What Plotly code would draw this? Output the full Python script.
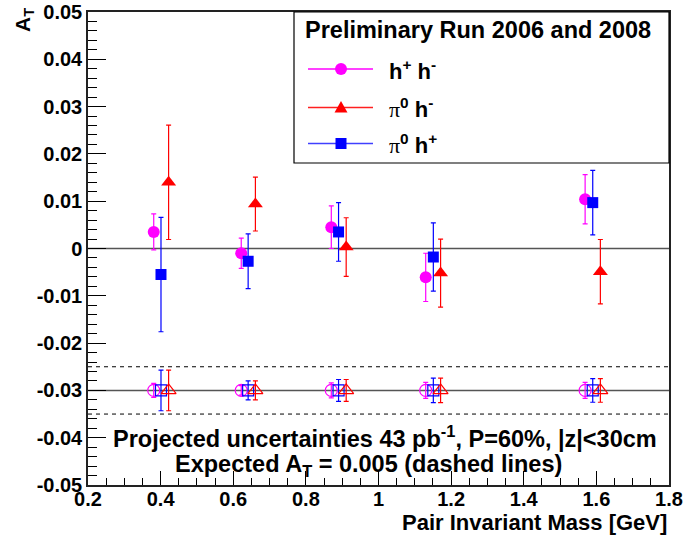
import numpy as np
import plotly.graph_objects as go

# Measured transverse asymmetry A_T per invariant-mass bin
hh_mass = [0.381, 0.622, 0.870, 1.130, 1.569]
hh_at = [0.0035, -0.0010, 0.0045, -0.0061, 0.0104]
hh_err = [0.0038, 0.0032, 0.0045, 0.0051, 0.0052]

pi0hm_mass = [0.422, 0.661, 0.911, 1.171, 1.611]
pi0hm_at = [0.0140, 0.0094, 0.0003, -0.0052, -0.0049]
pi0hm_err = [0.0121, 0.0057, 0.0062, 0.0072, 0.0068]

pi0hp_mass = [0.401, 0.641, 0.890, 1.151, 1.590]
pi0hp_at = [-0.0055, -0.0027, 0.0035, -0.0018, 0.0097]
pi0hp_err = [0.0121, 0.0058, 0.0062, 0.0072, 0.0068]

# Projected uncertainties, drawn around a common offset level
proj_level = -0.03
proj_band = [-0.025, -0.035]
hh_proj_err = [0.0015, 0.0010, 0.0016, 0.0017, 0.0017]
pi0hm_proj_err = [0.0043, 0.0020, 0.0023, 0.0026, 0.0025]
pi0hp_proj_err = [0.0043, 0.0020, 0.0023, 0.0026, 0.0025]

x_ticks = [0.2, 0.4, 0.6, 0.8, 1.0, 1.2, 1.4, 1.6, 1.8]
x_tick_labels = ["0.2", "0.4", "0.6", "0.8", "1", "1.2", "1.4", "1.6", "1.8"]
y_ticks = [0.05, 0.04, 0.03, 0.02, 0.01, 0, -0.01, -0.02, -0.03, -0.04, -0.05]
y_tick_labels = ["0.05", "0.04", "0.03", "0.02", "0.01", "0", "-0.01", "-0.02",
                 "-0.03", "-0.04", "-0.05"]

MAGENTA = "#ff00ff"
RED = "#ff0000"
BLUE = "#0000ff"
FONT = "Liberation Sans"

W, H = 685, 537
L, R, T, B = 88, 16, 12, 52
PW, PH = W - L - R, H - T - B


def px(xp):
    return (xp - L) / PW


def py(yp):
    return (H - B - yp) / PH


fig = go.Figure()


def add_series(x, y, err, color, symbol, size):
    fig.add_trace(go.Scatter(
        x=x, y=y, mode="markers",
        marker=dict(color=color, symbol=symbol, size=size, line=dict(width=0)),
        error_y=dict(type="data", array=err, color=color, thickness=1.2, width=2.5),
        showlegend=False, cliponaxis=False,
    ))


def add_projection(x, err, color, symbol, size):
    fig.add_trace(go.Scatter(
        x=x, y=[proj_level] * len(x), mode="markers",
        marker=dict(color=color, symbol=symbol, size=size, line=dict(width=1.2, color=color)),
        error_y=dict(type="data", array=err, color=color, thickness=1.2, width=2.5),
        showlegend=False,
    ))


add_projection(hh_mass, hh_proj_err, MAGENTA, "circle-open", 12)
add_projection(pi0hp_mass, pi0hp_proj_err, BLUE, "square-open", 11)
add_projection(pi0hm_mass, pi0hm_proj_err, RED, "triangle-up-open", 13)

add_series(hh_mass, hh_at, hh_err, MAGENTA, "circle", 12)
add_series(pi0hm_mass, pi0hm_at, pi0hm_err, RED, "triangle-up", 13)
add_series(pi0hp_mass, pi0hp_at, pi0hp_err, BLUE, "square", 11)

shapes = []
# zero line and projected level
for lvl in [0, proj_level]:
    shapes.append(dict(type="line", xref="paper", yref="y", x0=0, x1=1, y0=lvl, y1=lvl,
                       line=dict(color="#555555", width=1.5), layer="below"))
# expected asymmetry band
for lvl in proj_band:
    shapes.append(dict(type="line", xref="paper", yref="y", x0=0, x1=1, y0=lvl, y1=lvl,
                       line=dict(color="black", width=1, dash="4px,4px"), layer="below"))

# legend box
shapes.append(dict(type="rect", xref="paper", yref="paper",
                   x0=px(294), x1=px(669), y0=py(163), y1=py(12),
                   line=dict(color="black", width=1.2), fillcolor="white", layer="above"))

PI = "<span style=\"font-family:'Liberation Serif';font-weight:normal\">π</span>"
legend_rows = [
    (69, MAGENTA, "#ff00ff", "circle", "h<sup>+</sup> h<sup>-</sup>"),
    (107.5, RED, "#ff2020", "triangle", PI + "<sup>0</sup> h<sup>-</sup>"),
    (143.5, BLUE, "#4040ff", "square", PI + "<sup>0</sup> h<sup>+</sup>"),
]
annotations = []
for yrow, color, lcolor, kind, label in legend_rows:
    shapes.append(dict(type="line", xref="paper", yref="paper",
                       x0=px(308), x1=px(373), y0=py(yrow), y1=py(yrow),
                       line=dict(color=lcolor, width=1.5), layer="above"))
    common = dict(xref="paper", yref="paper", xsizemode="pixel", ysizemode="pixel",
                  xanchor=px(341), yanchor=py(yrow), fillcolor=color,
                  line=dict(color=color, width=0), layer="above")
    if kind == "circle":
        shapes.append(dict(type="circle", x0=-6, x1=6, y0=-6, y1=6, **common))
    elif kind == "square":
        shapes.append(dict(type="rect", x0=-5.5, x1=5.5, y0=-5.5, y1=5.5, **common))
    else:
        shapes.append(dict(type="path", path="M -6.5 -5 L 6.5 -5 L 0 6.5 Z", **common))
    annotations.append(dict(xref="paper", yref="paper", x=px(387), y=py(yrow + 1),
                            xanchor="left", yanchor="middle", showarrow=False,
                            text=label, font=dict(family=FONT, size=22, color="black", weight="bold")))

annotations.append(dict(xref="paper", yref="paper", x=px(477.5), y=py(30),
                        xanchor="center", yanchor="middle", showarrow=False,
                        text="Preliminary Run 2006 and 2008",
                        font=dict(family=FONT, size=23.5, color="black", weight="bold")))

annotations.append(dict(xref="paper", yref="paper", x=px(385), y=py(437),
                        xanchor="center", yanchor="middle", showarrow=False,
                        text="Projected uncertainties 43 pb<sup>-1</sup>, P=60%, |z|&lt;30cm",
                        font=dict(family=FONT, size=23.5, color="black", weight="bold")))
annotations.append(dict(xref="paper", yref="paper", x=px(368), y=py(465),
                        xanchor="center", yanchor="middle", showarrow=False,
                        text="Expected A<sub>T</sub> = 0.005 (dashed lines)",
                        font=dict(family=FONT, size=23.5, color="black", weight="bold")))

# axis titles
annotations.append(dict(xref="paper", yref="paper", x=px(24), y=py(6),
                        xanchor="center", yanchor="top", showarrow=False, textangle=-90,
                        text="A<sub>T</sub>",
                        font=dict(family=FONT, size=21, color="black", weight="bold")))
annotations.append(dict(xref="paper", yref="paper", x=1.0, y=py(522),
                        xanchor="right", yanchor="middle", showarrow=False,
                        text="Pair Invariant Mass [GeV]",
                        font=dict(family=FONT, size=22, color="black", weight="bold")))

tickfont = dict(family=FONT, size=20, color="black", weight="bold")
fig.update_layout(
    width=W, height=H,
    margin=dict(l=L, r=R, t=T, b=B, pad=0, autoexpand=False),
    paper_bgcolor="white", plot_bgcolor="white",
    showlegend=False,
    shapes=shapes, annotations=annotations,
    xaxis=dict(range=[0.2, 1.8], tickmode="array", tickvals=x_ticks, ticktext=x_tick_labels,
               ticks="inside", ticklen=14, tickwidth=1, tickcolor="black",
               minor=dict(tickmode="linear", tick0=0.2, dtick=0.05, ticks="inside",
                          ticklen=7, tickcolor="black", tickwidth=1, showgrid=False),
               showgrid=False, zeroline=False, showline=True, linecolor="#222222",
               linewidth=1.5, mirror=True, tickfont=tickfont, automargin=False,
               ticklabelstandoff=-5),
    yaxis=dict(range=[-0.05, 0.05], tickmode="array", tickvals=y_ticks, ticktext=y_tick_labels,
               ticks="inside", ticklen=18, tickwidth=1, tickcolor="black",
               minor=dict(tickmode="linear", tick0=0, dtick=0.002, ticks="inside",
                          ticklen=9, tickcolor="black", tickwidth=1, showgrid=False),
               showgrid=False, zeroline=False, showline=True, linecolor="#222222",
               linewidth=1.5, mirror=True, tickfont=tickfont, automargin=False),
)

fig.write_html("out.html")
